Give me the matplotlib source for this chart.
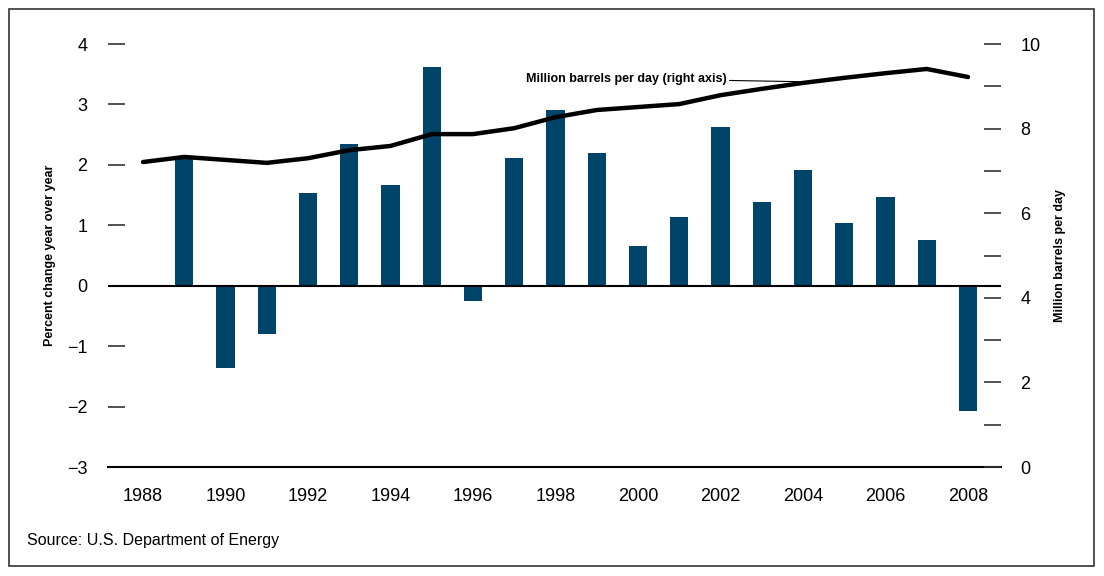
import matplotlib.pyplot as plt
from matplotlib.patches import Rectangle
from matplotlib.ticker import MultipleLocator

# Data
years = list(range(1988, 2009))
pct_change = [None, 2.12, -1.36, -0.80, 1.54, 2.35, 1.67, 3.62, -0.25, 2.12,
              2.90, 2.20, 0.65, 1.13, 2.62, 1.39, 1.92, 1.04, 1.47, 0.75, -2.07]
barrels = [7.21, 7.33, 7.26, 7.19, 7.30, 7.49, 7.59, 7.87, 7.87, 8.01,
           8.27, 8.44, 8.51, 8.58, 8.79, 8.94, 9.08, 9.20, 9.31, 9.41, 9.22]
year_ticks = list(range(1988, 2009, 2))

bar_color = '#00446a'
plt.rcParams['font.family'] = ['Liberation Sans', 'DejaVu Sans']

fig = plt.figure(figsize=(11.04, 5.76), dpi=100)
ax = fig.add_axes([0.0978, 0.1892, 0.8089, 0.7344])
ax2 = ax.twinx()

bar_years = [y for y, v in zip(years, pct_change) if v is not None]
bar_vals = [v for v in pct_change if v is not None]
ax.bar(bar_years, bar_vals, width=0.44, color=bar_color, zorder=2)
ax.axhline(0, color='black', lw=1.5, zorder=3)

ax.set_xlim(1987.15, 2008.8)
ax.set_ylim(-3, 4)
ax.set_xticks(year_ticks)
ax.set_yticks(range(-3, 5))
ax.set_yticklabels([str(v).replace('-', '\u2212') for v in range(-3, 5)])
ax.tick_params(axis='y', direction='in', length=12, width=1.2, color='#333333',
               pad=15, labelsize=13)
ax.tick_params(axis='x', length=0, pad=15, labelsize=13)
for s in ['top', 'left', 'right']:
    ax.spines[s].set_visible(False)
ax.spines['bottom'].set_linewidth(1.5)
ax.set_ylabel('Percent change year over year', fontsize=9, fontweight='bold',
              labelpad=8)

ax2.plot(years, barrels, color='black', lw=3.2, solid_capstyle='round', zorder=4)
ax2.set_ylim(0, 10)
ax2.yaxis.set_major_locator(MultipleLocator(2))
ax2.yaxis.set_minor_locator(MultipleLocator(1))
ax2.tick_params(axis='y', which='both', direction='in', length=12, width=1.2,
                color='#333333', pad=14, labelsize=13)
for s in ['top', 'left', 'right', 'bottom']:
    ax2.spines[s].set_visible(False)
ax2.set_ylabel('Million barrels per day', fontsize=9, fontweight='bold',
               labelpad=10)

ax2.annotate('Million barrels per day (right axis)', xy=(2003.9, barrels[16] + 0.03),
             xytext=(2002.15, barrels[16] + 0.1), ha='right', va='center',
             fontsize=9, fontweight='bold',
             arrowprops=dict(arrowstyle='-', color='black', lw=0.8,
                             shrinkA=0, shrinkB=0))

fig.text(0.0245, 0.054, 'Source: U.S. Department of Energy', fontsize=11.5)
fig.patches.append(Rectangle((0.008, 0.017), 0.983, 0.968, transform=fig.transFigure,
                             fill=False, edgecolor='#333333', lw=1.2))

fig.savefig('out.png', dpi=100)
